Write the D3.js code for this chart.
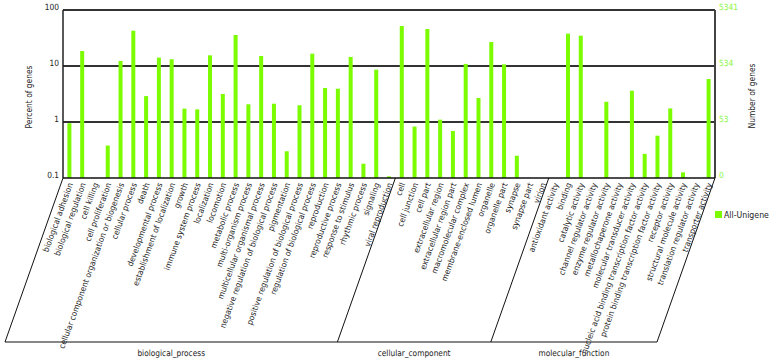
<!DOCTYPE html>
<html><head><meta charset="utf-8">
<script src="https://cdn.jsdelivr.net/npm/d3@7"></script>
<style>body{margin:0;background:#fff}svg{display:block;font-family:"DejaVu Sans",Verdana,sans-serif}</style>
</head><body><svg id="c" width="773" height="361"></svg>
<script>
const bioCats = ["biological adhesion","biological regulation","cell killing","cell proliferation","cellular component organization or biogenesis","cellular process","death","developmental process","establishment of localization","growth","immune system process","localization","locomotion","metabolic process","multi-organism process","multicellular organismal process","negative regulation of biological process","pigmentation","positive regulation of biological process","regulation of biological process","reproduction","reproductive process","response to stimulus","rhythmic process","signaling","viral reproduction"];
const bioVals = [0.95,18.5,0,0.38,12.3,42.7,2.9,14.1,13.2,1.73,1.68,15.5,3.16,35.8,2.07,15.1,2.12,0.30,1.99,16.6,4.05,3.93,14.5,0.18,8.6,0.107];
const ccCats = ["cell","cell junction","cell part","extracellular region","extracellular region part","macromolecular complex","membrane-enclosed lumen","organelle","organelle part","synapse","synapse part","virion"];
const ccVals = [51.8,0.83,45.8,1.10,0.69,10.9,2.68,26.8,10.7,0.25,0,0];
const mfCats = ["antioxidant activity","binding","catalytic activity","channel regulator activity","enzyme regulator activity","metallochaperone activity","molecular transducer activity","nucleic acid binding transcription factor activity","protein binding transcription factor activity","receptor activity","structural molecule activity","translation regulator activity","transporter activity"];
const mfVals = [0,37.8,34.8,0,2.3,0,3.62,0.27,0.57,1.75,0.126,0,5.86];
const groups = ["biological_process","cellular_component","molecular_function"];
const leftTicks = [0.1,1,10,100];
const leftTickLabels = ["0.1","1","10","100"];
const rightTickLabels = ["0","53","534","5341"];
const seriesName = "All-Unigene";

const cats = [...bioCats, ...ccCats, ...mfCats];
const vals = [...bioVals, ...ccVals, ...mfVals];
const groupSizes = [bioCats.length, ccCats.length, mfCats.length];

const svg = d3.select("#c");
const L = 63, R = 715, T = 10, B = 178, BOT = 342, SH = 58;
const x = d3.scaleBand().domain(cats).range([L, R]).paddingInner(0).paddingOuter(0);
const y = d3.scaleLog().domain([0.1, 100]).range([B, T]);
const green = "#7cfc00";
const FS = 8.5;

// horizontal compression factor so a sample text has a given width at size FS
function squeeze(sample, target, size) {
  const t = svg.append("text").attr("font-size", size).text(sample);
  const w = t.node().getComputedTextLength();
  t.remove();
  return target / w;
}
const kCat = squeeze("cellular component organization or biogenesis", 176, 8.2);
const kGrp = squeeze("molecular_function", 71, FS);
const kLeg = squeeze("All-Unigene", 45, FS);
const kTitle = squeeze("Percent of genes", 63, FS);
const kTick = squeeze("5341", 19, FS);

// grid lines
svg.append("g").selectAll("line").data(leftTicks.filter(d => d > 0.1)).join("line")
  .attr("x1", L).attr("x2", R).attr("y1", d => y(d)).attr("y2", d => y(d))
  .attr("stroke", "#333").attr("stroke-width", 2);

// bars
const bw = 4;
svg.append("g").selectAll("rect").data(vals.map((v, i) => ({c: cats[i], v})).filter(d => d.v > 0)).join("rect")
  .attr("x", d => x(d.c) + x.bandwidth() / 2 - bw / 2)
  .attr("width", bw)
  .attr("y", d => y(d.v))
  .attr("height", d => B - y(d.v))
  .attr("fill", green);

// axes lines
svg.append("line").attr("x1", L).attr("x2", L).attr("y1", T).attr("y2", B).attr("stroke", "#222").attr("stroke-width", 1.5);
svg.append("line").attr("x1", R).attr("x2", R).attr("y1", T).attr("y2", B).attr("stroke", "#444").attr("stroke-width", 2);
svg.append("line").attr("x1", L).attr("x2", R).attr("y1", B).attr("y2", B).attr("stroke", "#111").attr("stroke-width", 1.5);

// left tick labels
svg.append("g").selectAll("text").data(leftTicks).join("text")
  .attr("transform", d => `translate(${L - 4},${y(d)}) scale(${kTick},1)`).attr("text-anchor", "end")
  .attr("font-size", FS).attr("fill", "#222").text((d, i) => leftTickLabels[i]);
// right tick labels
svg.append("g").selectAll("text").data(leftTicks).join("text")
  .attr("transform", d => `translate(${R + 4},${y(d)}) scale(${kTick},1)`).attr("text-anchor", "start")
  .attr("font-size", FS).attr("fill", "#8cf53c").text((d, i) => rightTickLabels[i]);

// axis titles
svg.append("text").attr("transform", `translate(32,${(T + B) / 2 + 3}) rotate(-90) scale(${kTitle},1)`).attr("text-anchor", "middle")
  .attr("font-size", FS).attr("fill", "#222").text("Percent of genes");
svg.append("text").attr("transform", `translate(755,${(T + B) / 2 + 2}) rotate(-90) scale(${kTitle},1)`).attr("text-anchor", "middle")
  .attr("font-size", FS).attr("fill", "#222").text("Number of genes");

// category labels
svg.append("g").selectAll("text").data(cats).join("text")
  .attr("transform", d => `translate(${x(d) + x.bandwidth() / 2 + 1},${B + 5}) rotate(-70) scale(${kCat},1)`)
  .attr("text-anchor", "end").attr("dy", "0.35em")
  .attr("font-size", 8.2).attr("fill", "#222").text(d => d);

// group brackets
let idx = 0;
const bounds = [0];
groupSizes.forEach(s => { idx += s; bounds.push(idx); });
const bx = i => i >= cats.length ? R : x(cats[i]);
const gB = svg.append("g").attr("stroke", "#111").attr("stroke-width", 1).attr("fill", "none");
bounds.forEach(b => {
  gB.append("line").attr("x1", bx(b)).attr("y1", B).attr("x2", bx(b) - SH).attr("y2", BOT);
});
gB.append("line").attr("x1", L - SH).attr("x2", R - SH).attr("y1", BOT).attr("y2", BOT);
groups.forEach((g, i) => {
  const cx = (bx(bounds[i]) + bx(bounds[i + 1])) / 2 - SH;
  svg.append("text").attr("transform", `translate(${cx},${BOT + 14}) scale(${kGrp},1)`).attr("text-anchor", "middle")
    .attr("font-size", FS).attr("fill", "#222").text(g);
});

// legend
svg.append("rect").attr("x", 715).attr("y", 211).attr("width", 7).attr("height", 7).attr("fill", green);
svg.append("text").attr("transform", `translate(724,218) scale(${kLeg},1)`).attr("font-size", FS).attr("fill", "#222").text(seriesName);
</script></body></html>
